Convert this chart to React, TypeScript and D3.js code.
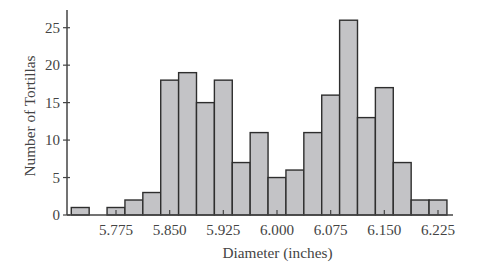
import React from "react";
import * as d3 from "d3";

const binCenters = [5.725, 5.75, 5.775, 5.8, 5.825, 5.85, 5.875, 5.9, 5.925, 5.95, 5.975, 6.0, 6.025, 6.05, 6.075, 6.1, 6.125, 6.15, 6.175, 6.2, 6.225];
const counts = [1, 0, 1, 2, 3, 18, 19, 15, 18, 7, 11, 5, 6, 11, 16, 26, 13, 17, 7, 2, 2];
const xTicks = [5.775, 5.85, 5.925, 6.0, 6.075, 6.15, 6.225];
const yTicks = [0, 5, 10, 15, 20, 25];
const binWidth = 0.025;

export default function App() {
  const W = 502, H = 279;
  const x = d3.scaleLinear().domain([5.775, 6.225]).range([116, 438]);
  const y = d3.scaleLinear().domain([0, 25]).range([215, 27.7]);
  const axisColor = "#444";
  const font = "'Liberation Serif', 'Times New Roman', serif";
  return (
    <svg width={W} height={H} style={{ position: "absolute", left: 0, top: 0, background: "#fff" }}>
      {binCenters.map((c, i) =>
        counts[i] > 0 ? (
          <rect
            key={i}
            x={x(c - binWidth / 2)}
            y={y(counts[i])}
            width={x(c + binWidth / 2) - x(c - binWidth / 2)}
            height={y(0) - y(counts[i])}
            fill="#c3c3c6"
            stroke="#2e2e2e"
            strokeWidth={1.4}
          />
        ) : null
      )}
      <line x1={67} x2={453} y1={y(0)} y2={y(0)} stroke={axisColor} strokeWidth={1.5} />
      <line x1={67} x2={67} y1={y(0)} y2={10} stroke={axisColor} strokeWidth={1.5} />
      {yTicks.map((t) => (
        <g key={t}>
          <line x1={63} x2={70} y1={y(t)} y2={y(t)} stroke={axisColor} strokeWidth={1.2} />
          <text x={60} y={y(t)} dy="0.35em" textAnchor="end" fontFamily={font} fontSize={15} fill="#444">
            {t}
          </text>
        </g>
      ))}
      {xTicks.map((t) => (
        <g key={t}>
          <line x1={x(t)} x2={x(t)} y1={y(0)} y2={y(0) - 5} stroke={axisColor} strokeWidth={1.2} />
          <text x={x(t)} y={235} textAnchor="middle" fontFamily={font} fontSize={15} fill="#444" textLength={34} lengthAdjust="spacingAndGlyphs">
            {d3.format(".3f")(t)}
          </text>
        </g>
      ))}
      <text x={277.5} y={258} textAnchor="middle" fontFamily={font} fontSize={15} fill="#444" textLength={110} lengthAdjust="spacingAndGlyphs">
        Diameter (inches)
      </text>
      <text transform={`translate(35,116) rotate(-90)`} textAnchor="middle" fontFamily={font} fontSize={15} fill="#444" textLength={121} lengthAdjust="spacingAndGlyphs">
        Number of Tortillas
      </text>
    </svg>
  );
}
